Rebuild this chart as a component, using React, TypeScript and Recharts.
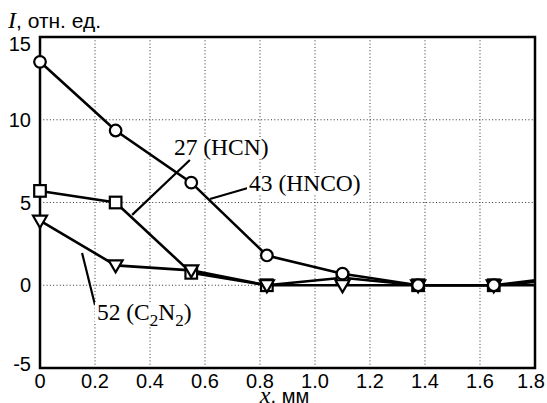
import React from "react";
import {
  LineChart,
  Line,
  XAxis,
  YAxis,
  CartesianGrid,
  ReferenceArea,
  ReferenceLine,
  ReferenceDot,
} from "recharts";

// Distance x, mm
const xValues = [0, 0.275, 0.55, 0.825, 1.1, 1.375, 1.65, 1.8];
// Intensity, rel. units
const hncoValues = [13.5, 9.35, 6.2, 1.8, 0.7, 0, 0, 0.3];
const hcnValues = [5.7, 5.0, 0.75, 0, 0.45, 0, 0, 0.2];
const c2n2Values = [3.9, 1.2, 0.9, 0, 0, 0, 0, 0];

const xTicks = [0, 0.2, 0.4, 0.6, 0.8, 1.0, 1.2, 1.4, 1.6, 1.8];
const yTicks = [-5, 0, 5, 10, 15];

const data = xValues.map((x, i) => ({
  x,
  hnco: hncoValues[i],
  hcn: hcnValues[i],
  c2n2: c2n2Values[i],
}));

const lastIndex = xValues.length - 1;
const SANS = "'Liberation Sans', Arial, sans-serif";
const SERIF = "'Liberation Serif', 'Times New Roman', serif";

const CircleDot = (p: any) => {
  if (p.index === lastIndex) return <g key={`c${p.index}`} />;
  return (
    <circle key={`c${p.index}`} cx={p.cx} cy={p.cy} r={5.8} fill="#fff" stroke="#000" strokeWidth={2.2} />
  );
};
const SquareDot = (p: any) => {
  if (p.index === lastIndex) return <g key={`s${p.index}`} />;
  return (
    <rect key={`s${p.index}`} x={p.cx - 5.8} y={p.cy - 5.8} width={11.6} height={11.6} fill="#fff" stroke="#000" strokeWidth={2.2} />
  );
};
const TriDot = (p: any) => {
  if (p.index === lastIndex) return <g key={`t${p.index}`} />;
  const { cx, cy } = p;
  return (
    <path
      key={`t${p.index}`}
      d={`M${cx - 7},${cy - 5} L${cx + 7},${cy - 5} L${cx},${cy + 7} Z`}
      fill="#fff"
      stroke="#000"
      strokeWidth={2.2}
      strokeLinejoin="miter"
    />
  );
};

const YTick = (p: any) => {
  const v = p.payload.value;
  let dy = 7;
  if (v === 15) dy += 7;
  if (v === -5) dy -= 4;
  return (
    <text x={p.x} y={p.y} dy={dy} textAnchor="end" fontFamily={SANS} fontSize={20} fill="#000">
      {v}
    </text>
  );
};

const XTick = (p: any) => {
  const v = p.payload.value;
  const label = v === 0 ? "0" : v.toFixed(1);
  const dx = v === 1.8 ? -4 : 0;
  return (
    <text x={p.x + dx} y={p.y} dy={12} textAnchor="middle" fontFamily={SANS} fontSize={20} fill="#000">
      {label}
    </text>
  );
};

const YTitle = (p: any) => {
  const vb = p.viewBox;
  return (
    <text x={vb.x + 8} y={vb.y - 9} fontFamily={SANS} fontSize={21} fill="#000">
      <tspan fontFamily={SERIF} fontStyle="italic" fontSize={24}>I</tspan>
      <tspan>, отн. ед.</tspan>
    </text>
  );
};

const XTitle = (p: any) => {
  const vb = p.viewBox;
  return (
    <text x={vb.x + vb.width / 2 - 3} y={vb.y + 35} textAnchor="middle" fontFamily={SANS} fontSize={20} fill="#000">
      <tspan fontFamily={SERIF} fontStyle="italic" fontSize={24}>x</tspan>
      <tspan>, мм</tspan>
    </text>
  );
};

const makeLabel = (parts: React.ReactNode, w: number) => (p: any) => {
  const vb = p.viewBox;
  return (
    <g>
      <rect x={vb.x - 2} y={vb.y - 18} width={w} height={22} fill="#fff" />
      <text x={vb.x} y={vb.y} fontFamily={SERIF} fontSize={23.5} fill="#000">
        {parts}
      </text>
    </g>
  );
};

const hcnLabel = makeLabel(<tspan>27 (HCN)</tspan>, 96);
const hncoLabel = makeLabel(<tspan>43 (HNCO)</tspan>, 112);
const c2n2Label = makeLabel(
  <>
    <tspan>52 (C</tspan>
    <tspan dy={6} fontSize={17}>2</tspan>
    <tspan dy={-6}>N</tspan>
    <tspan dy={6} fontSize={17}>2</tspan>
    <tspan dy={-6}>)</tspan>
  </>,
  100
);

export default function App() {
  return (
    <div style={{ position: "fixed", left: 0, top: 0, width: 547, height: 403, background: "#fff" }}>
      <LineChart
        width={547}
        height={403}
        data={data}
        margin={{ top: 37, right: 12, bottom: 0, left: 0 }}
      >
        <CartesianGrid stroke="#333" strokeDasharray="1 2.3" strokeWidth={1} />
        <XAxis
          dataKey="x"
          type="number"
          domain={[0, 1.8]}
          ticks={xTicks}
          interval={0}
          tickLine={false}
          axisLine={false}
          height={35}
          tick={<XTick />}
          label={{ content: <XTitle /> }}
        />
        <YAxis
          type="number"
          domain={[-5, 15]}
          ticks={yTicks}
          interval={0}
          tickLine={false}
          axisLine={false}
          width={40}
          tickMargin={3}
          tick={<YTick />}
          label={{ content: <YTitle /> }}
        />
        <ReferenceDot x={0.487} y={7.87} r={0} fill="none" stroke="none" label={{ content: hcnLabel }} />
        <ReferenceDot x={0.76} y={5.7} r={0} fill="none" stroke="none" label={{ content: hncoLabel }} />
        <ReferenceDot x={0.207} y={-2.1} r={0} fill="none" stroke="none" label={{ content: c2n2Label }} />
        <ReferenceArea x1={0} x2={1.8} y1={-5} y2={15} fill="none" stroke="#000" strokeWidth={2.5} fillOpacity={0} />
        <ReferenceLine segment={[{ x: 0.545, y: 7.57 }, { x: 0.335, y: 4.25 }]} stroke="#000" strokeWidth={2.2} />
        <ReferenceLine segment={[{ x: 0.756, y: 5.88 }, { x: 0.618, y: 5.21 }]} stroke="#000" strokeWidth={2.2} />
        <ReferenceLine segment={[{ x: 0.153, y: 1.95 }, { x: 0.2, y: -1.2 }]} stroke="#000" strokeWidth={2.2} />
        <Line dataKey="hcn" type="linear" stroke="#000" strokeWidth={2.6} dot={SquareDot} isAnimationActive={false} />
        <Line dataKey="c2n2" type="linear" stroke="#000" strokeWidth={2.6} dot={TriDot} isAnimationActive={false} />
        <Line dataKey="hnco" type="linear" stroke="#000" strokeWidth={2.6} dot={CircleDot} isAnimationActive={false} />
      </LineChart>
    </div>
  );
}
